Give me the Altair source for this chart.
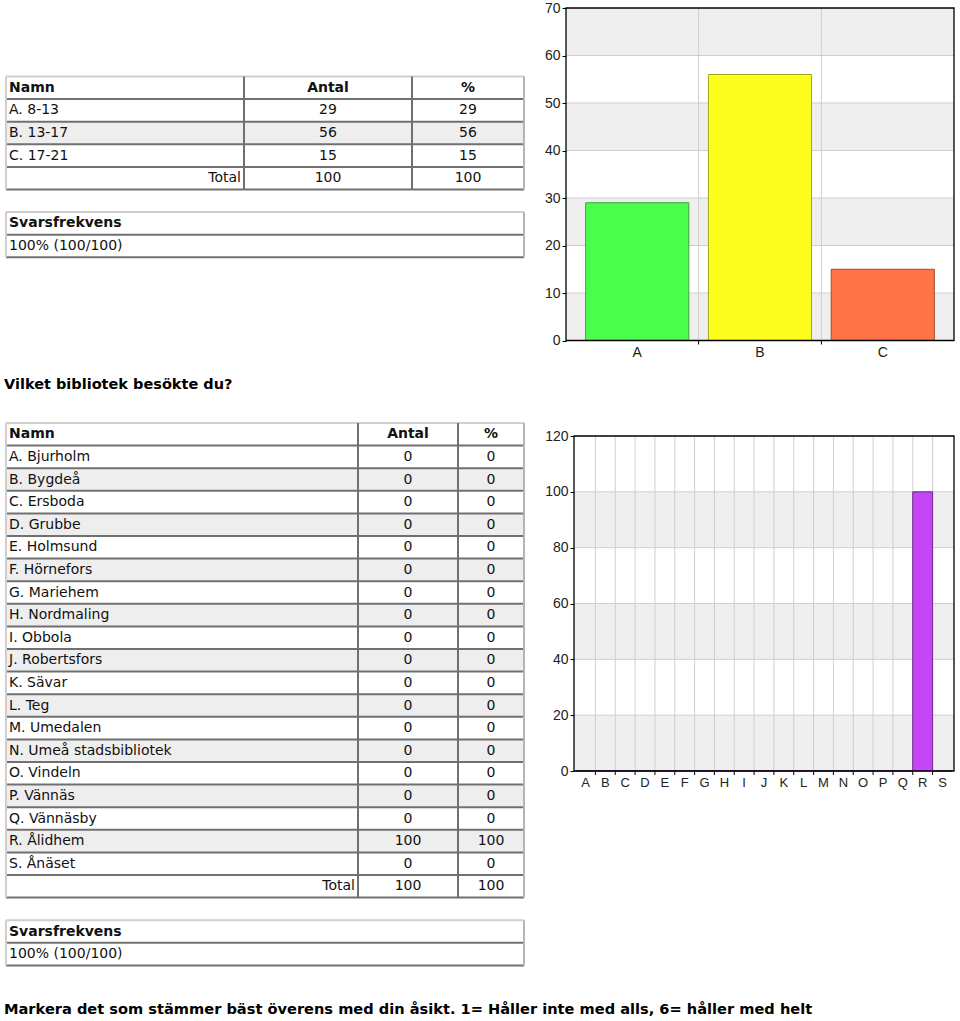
import altair as alt
import pandas as pd

# ---------------- data ----------------
header = ["Namn", "Antal", "%"]
total_label = "Total"
svar_header = "Svarsfrekvens"
svar_value = "100% (100/100)"
question_library = "Vilket bibliotek besökte du?"
question_next = "Markera det som stämmer bäst överens med din åsikt. 1= Håller inte med alls, 6= håller med helt"

age_names = ["A. 8-13", "B. 13-17", "C. 17-21"]
age_letters = ["A", "B", "C"]
age_antal = [29, 56, 15]
age_pct = [29, 56, 15]
age_total = [100, 100]
age_ticks = [0, 10, 20, 30, 40, 50, 60, 70]

lib_names = ["A. Bjurholm", "B. Bygdeå", "C. Ersboda", "D. Grubbe", "E. Holmsund",
             "F. Hörnefors", "G. Mariehem", "H. Nordmaling", "I. Obbola",
             "J. Robertsfors", "K. Sävar", "L. Teg", "M. Umedalen",
             "N. Umeå stadsbibliotek", "O. Vindeln", "P. Vännäs", "Q. Vännäsby",
             "R. Ålidhem", "S. Ånäset"]
lib_letters = ["A", "B", "C", "D", "E", "F", "G", "H", "I", "J", "K", "L", "M",
               "N", "O", "P", "Q", "R", "S"]
lib_antal = [0, 0, 0, 0, 0, 0, 0, 0, 0, 0, 0, 0, 0, 0, 0, 0, 0, 100, 0]
lib_pct = [0, 0, 0, 0, 0, 0, 0, 0, 0, 0, 0, 0, 0, 0, 0, 0, 0, 100, 0]
lib_total = [100, 100]
lib_ticks = [0, 20, 40, 60, 80, 100, 120]

# ---------------- style / layout ----------------
FONT = "DejaVu Sans"
AXFONT = "Liberation Sans"
TXT = "#111111"
DARK = "#707070"
LIGHT = "#cfcfcf"
MIDG = "#b5b5b5"
ROW = 22.6
T = 8.5          # page y of the top of the first chart (top axis label overhang)
ROW1_H = 427.5
L_W = 559
SPACING = 6
age_fill = ["#4cfe4c", "#fefe1e", "#fe7446"]
age_stroke = ["#36a836", "#a6a616", "#a44c2e"]
lib_fill = "#c546f6"
lib_stroke = "#6e2a8a"
BAND_GRAY = "#efefef"
GRID = "#cfcfcf"

shade_scale = alt.Scale(domain=["w", "g"], range=["#ffffff", "#eeeeee"])


def table_layers(names, antal, pct, total, edges, ys):
    n = len(names)
    left, c1, c2, right = edges
    rows = list(range(n + 2))
    df = pd.DataFrame({
        "row": rows,
        "row_end": [r + 1 for r in rows],
        "shade": ["w"] + ["g" if i % 2 else "w" for i in range(n)] + ["w"],
    })
    hdr = pd.DataFrame({"mid": [0.5], "name": [header[0]], "antal": [header[1]], "pct": [header[2]]})
    body = pd.DataFrame({"mid": [i + 1.5 for i in range(n)], "name": names,
                         "antal": [str(v) for v in antal], "pct": [str(v) for v in pct]})
    tot = pd.DataFrame({"mid": [n + 1.5], "name": [total_label],
                        "antal": [str(total[0])], "pct": [str(total[1])]})
    vals = pd.concat([body, tot])
    Y = lambda f: alt.Y(f, scale=ys, axis=None)
    layers = [
        alt.Chart(df).mark_rect().encode(
            x=alt.value(left), x2=alt.value(right), y=Y("row:Q"), y2="row_end:Q",
            fill=alt.Fill("shade:N", scale=shade_scale, legend=None)),
        alt.Chart(df).mark_rule(color=DARK, strokeWidth=2).encode(
            x=alt.value(left), x2=alt.value(right), y=Y("row_end:Q")),
        alt.Chart(df.iloc[:1]).mark_rule(color=LIGHT, strokeWidth=2).encode(
            x=alt.value(left), x2=alt.value(right), y=Y("row:Q")),
    ]
    for xp, col in [(left, LIGHT), (c1, DARK), (c2, DARK), (right, MIDG)]:
        layers.append(alt.Chart(df).mark_rule(color=col, strokeWidth=2).encode(
            x=alt.value(xp), y=Y("min(row):Q"), y2=alt.Y2("max(row_end):Q")))
    tk = dict(baseline="middle", font=FONT, fontSize=14, color=TXT)
    layers += [
        alt.Chart(hdr).mark_text(align="left", fontWeight="bold", **tk).encode(
            x=alt.value(left + 3), y=Y("mid:Q"), text="name:N"),
        alt.Chart(hdr).mark_text(align="center", fontWeight="bold", **tk).encode(
            x=alt.value((c1 + c2) / 2), y=Y("mid:Q"), text="antal:N"),
        alt.Chart(hdr).mark_text(align="center", fontWeight="bold", **tk).encode(
            x=alt.value((c2 + right) / 2), y=Y("mid:Q"), text="pct:N"),
        alt.Chart(body).mark_text(align="left", **tk).encode(
            x=alt.value(left + 3), y=Y("mid:Q"), text="name:N"),
        alt.Chart(tot).mark_text(align="right", **tk).encode(
            x=alt.value(c1 - 3), y=Y("mid:Q"), text="name:N"),
        alt.Chart(vals).mark_text(align="center", **tk).encode(
            x=alt.value((c1 + c2) / 2), y=Y("mid:Q"), text="antal:N"),
        alt.Chart(vals).mark_text(align="center", **tk).encode(
            x=alt.value((c2 + right) / 2), y=Y("mid:Q"), text="pct:N"),
    ]
    return layers


def svar_layers(start_row, left, right, ys):
    df = pd.DataFrame({"row": [start_row, start_row + 1],
                       "row_end": [start_row + 1, start_row + 2],
                       "mid": [start_row + 0.5, start_row + 1.5],
                       "txt": [svar_header, svar_value],
                       "shade": ["w", "w"]})
    Y = lambda f: alt.Y(f, scale=ys, axis=None)
    tk = dict(baseline="middle", font=FONT, fontSize=14, color=TXT, align="left")
    return [
        alt.Chart(df).mark_rect().encode(
            x=alt.value(left), x2=alt.value(right), y=Y("row:Q"), y2="row_end:Q",
            fill=alt.Fill("shade:N", scale=shade_scale, legend=None)),
        alt.Chart(df).mark_rule(color=DARK, strokeWidth=2).encode(
            x=alt.value(left), x2=alt.value(right), y=Y("row_end:Q")),
        alt.Chart(df.iloc[:1]).mark_rule(color=LIGHT, strokeWidth=2).encode(
            x=alt.value(left), x2=alt.value(right), y=Y("row:Q")),
        alt.Chart(df).mark_rule(color=LIGHT, strokeWidth=2).encode(
            x=alt.value(left), y=Y("min(row):Q"), y2=alt.Y2("max(row_end):Q")),
        alt.Chart(df).mark_rule(color=MIDG, strokeWidth=2).encode(
            x=alt.value(right), y=Y("min(row):Q"), y2=alt.Y2("max(row_end):Q")),
        alt.Chart(df.iloc[:1]).mark_text(fontWeight="bold", **tk).encode(
            x=alt.value(left + 3), y=Y("mid:Q"), text="txt:N"),
        alt.Chart(df.iloc[1:]).mark_text(**tk).encode(
            x=alt.value(left + 3), y=Y("mid:Q"), text="txt:N"),
    ]


def bar_chart(letters, values, ticks, width, height, x0, pad_in, pad_out, fill, stroke, xfs):
    df = pd.DataFrame({"letter": letters, "value": values})
    xs = alt.Scale(domain=letters, range=[x0, width], paddingInner=pad_in, paddingOuter=pad_out)
    ys = alt.Scale(domain=[ticks[0], ticks[-1]], nice=False)
    xax = alt.Axis(ticks=False, grid=False, domain=False, labelAngle=0,
                   labelFont=AXFONT, labelFontSize=xfs, labelColor="#222222",
                   labelPadding=5, zindex=1, labelOverlap=False)
    yax = alt.Axis(values=ticks, grid=False, domain=False, tickColor="black", offset=-x0,
                   tickSize=4, labelPadding=2, labelFont=AXFONT, labelFontSize=14,
                   labelColor="#222222", zindex=1)
    X = lambda f, **k: alt.X(f, scale=xs, axis=xax, title=None, **k)
    Y = lambda f: alt.Y(f, scale=ys, axis=yax, title=None)
    bands = pd.DataFrame({"y0": ticks[0:-1:2], "y1": ticks[1::2]})
    gl = pd.DataFrame({"t": ticks[1:-1]})
    bounds = pd.DataFrame({"letter": letters[1:]})
    step = (width - x0) / (len(letters) - pad_in + 2 * pad_out)
    xoff = -pad_in * step / 2
    frame = pd.DataFrame({"k": [0]})
    layers = [
        alt.Chart(bands).mark_rect(color=BAND_GRAY).encode(
            x=alt.value(x0), x2=alt.value(width), y=Y("y0:Q"), y2="y1:Q"),
        alt.Chart(gl).mark_rule(color=GRID).encode(
            x=alt.value(x0), x2=alt.value(width), y=Y("t:Q")),
        alt.Chart(bounds).mark_rule(color=GRID, xOffset=xoff).encode(
            x=X("letter:N", bandPosition=0)),
        alt.Chart(bounds).mark_rule(color="black", xOffset=xoff).encode(
            x=X("letter:N", bandPosition=0),
            y=alt.value(height), y2=alt.value(height + 4)),
    ]
    if isinstance(fill, list):
        fenc = dict(fill=alt.Fill("letter:N", scale=alt.Scale(domain=letters, range=fill), legend=None),
                    stroke=alt.Stroke("letter:N", scale=alt.Scale(domain=letters, range=stroke), legend=None))
        bar = alt.Chart(df).mark_bar(strokeWidth=1)
    else:
        fenc = {}
        bar = alt.Chart(df).mark_bar(fill=fill, stroke=stroke, strokeWidth=1)
    layers.append(bar.encode(x=X("letter:N"), y=Y("value:Q"), **fenc))
    layers.append(alt.Chart(frame).mark_rect(stroke="black", strokeWidth=1.3, fillOpacity=0).encode(
        x=alt.value(x0), x2=alt.value(width), y=alt.value(0), y2=alt.value(height)))
    return alt.layer(*layers).properties(width=width, height=height)


# ---------------- left blocks ----------------
r0 = -(77 - T) / ROW
ys1 = alt.Scale(domain=[r0, r0 + ROW1_H / ROW], reverse=True, nice=False, zero=False)
title_df = pd.DataFrame({"t": [question_library]})
L1 = alt.layer(
    *table_layers(age_names, age_antal, age_pct, age_total, [5, 243, 411, 523], ys1),
    *svar_layers(len(age_names) + 3, 5, 523, ys1),
    alt.Chart(title_df).mark_text(align="left", baseline="middle", font=FONT, fontSize=14.5,
                                  fontWeight="bold", color="#000000").encode(
        x=alt.value(3), y=alt.value(385 - T), text="t:N"),
).properties(width=L_W, height=ROW1_H)

L2_H = 1021 - T - ROW1_H
r0b = (T + ROW1_H - 423) / ROW
ys2 = alt.Scale(domain=[r0b, r0b + L2_H / ROW], reverse=True, nice=False, zero=False)
foot_df = pd.DataFrame({"t": [question_next]})
L2 = alt.layer(
    *table_layers(lib_names, lib_antal, lib_pct, lib_total, [5, 357, 457, 523], ys2),
    *svar_layers(len(lib_names) + 3, 5, 523, ys2),
    alt.Chart(foot_df).mark_text(align="left", baseline="middle", font=FONT, fontSize=14.6,
                                 fontWeight="bold", color="#000000").encode(
        x=alt.value(3), y=alt.value(1010 - T - ROW1_H), text="t:N"),
).properties(width=L_W, height=L2_H)

C1 = bar_chart(age_letters, age_antal, age_ticks, 388, 332.5, 0, 0.16, 0.16, age_fill, age_stroke, 14)
C2 = bar_chart(lib_letters, lib_antal, lib_ticks, 388, 335, 8, 0.0, 0.08, lib_fill, lib_stroke, 13)

chart = alt.concat(
    L1, C1, L2, C2, columns=2, bounds="flush",
    spacing={"row": 0, "column": SPACING},
    align={"row": "each", "column": "each"},
).resolve_scale(
    x="independent", y="independent", fill="independent", stroke="independent"
).properties(
    padding={"top": 0, "left": 0, "right": 0, "bottom": 0}, background="white"
).configure_view(stroke="transparent")

chart.save("out.html", embed_options={"renderer": "svg", "actions": False})
